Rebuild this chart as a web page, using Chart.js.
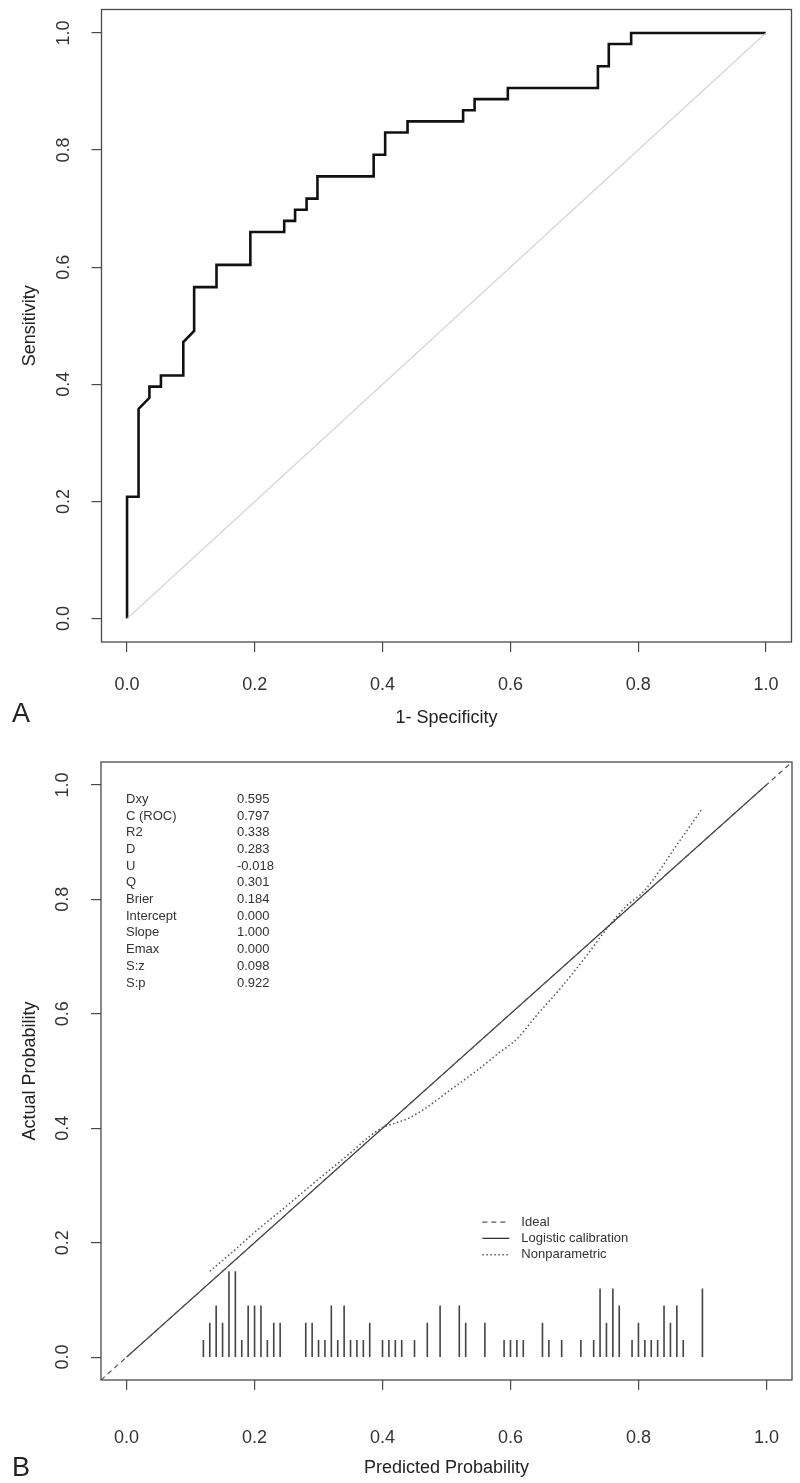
<!DOCTYPE html>
<html>
<head>
<meta charset="utf-8">
<script src="https://cdn.jsdelivr.net/npm/chart.js@4.4.1/dist/chart.umd.min.js"></script>
<style>
  body { margin: 0; background: #fff; width: 800px; height: 1483px; position: relative; overflow: hidden; }
  .panel { position: absolute; left: 0; width: 800px; }
  #wrapA { top: 0; height: 740px; }
  #wrapB { top: 740px; height: 743px; }
  .tag { position: absolute; font-size: 27px; color: #222; font-family: "Liberation Sans Narrow", "Liberation Sans", Arial, sans-serif; }
</style>
</head>
<body>
<div class="panel" id="wrapA"><canvas id="rocChart" width="800" height="740"></canvas></div>
<div class="panel" id="wrapB"><canvas id="calChart" width="800" height="743"></canvas></div>
<div class="tag" style="left:12px;top:698px">A</div>
<div class="tag" style="left:12px;top:1452px">B</div>
<script>
// shared axis ticks
const axisTicks = [0, 0.2, 0.4, 0.6, 0.8, 1.0];
const axisTickLabels = ['0.0', '0.2', '0.4', '0.6', '0.8', '1.0'];

// panel A: ROC curve (1 - specificity, sensitivity)
const rocFpr = [0, 0, 0.018, 0.018, 0.035, 0.035, 0.053, 0.053, 0.088, 0.088, 0.105, 0.105, 0.140, 0.140,
  0.193, 0.193, 0.246, 0.246, 0.263, 0.263, 0.281, 0.281, 0.298, 0.298, 0.386, 0.386, 0.404, 0.404,
  0.439, 0.439, 0.526, 0.526, 0.544, 0.544, 0.596, 0.596, 0.737, 0.737, 0.754, 0.754, 0.789, 0.789, 1];
const rocTpr = [0, 0.208, 0.208, 0.358, 0.377, 0.396, 0.396, 0.415, 0.415, 0.472, 0.491, 0.566, 0.566, 0.604,
  0.604, 0.660, 0.660, 0.679, 0.679, 0.698, 0.698, 0.717, 0.717, 0.755, 0.755, 0.792, 0.792, 0.830,
  0.830, 0.849, 0.849, 0.868, 0.868, 0.887, 0.887, 0.906, 0.906, 0.943, 0.943, 0.981, 0.981, 1, 1];
const chanceX = [0, 1];
const chanceY = [0, 1];

// panel B: calibration
const statNames = ['Dxy', 'C (ROC)', 'R2', 'D', 'U', 'Q', 'Brier', 'Intercept', 'Slope', 'Emax', 'S:z', 'S:p'];
const statValues = ['0.595', '0.797', '0.338', '0.283', '-0.018', '0.301', '0.184', '0.000', '1.000', '0.000', '0.098', '0.922'];
const idealX = [-0.04, 1.04];
const idealY = [-0.04, 1.04];
const logisticX = [0, 1];
const logisticY = [0, 1];
const nonparX = [0.13, 0.17, 0.20, 0.25, 0.30, 0.35, 0.38, 0.40, 0.42, 0.44, 0.47, 0.50, 0.55, 0.58,
  0.61, 0.64, 0.68, 0.72, 0.75, 0.78, 0.81, 0.86, 0.90];
const nonparY = [0.150, 0.188, 0.218, 0.264, 0.311, 0.357, 0.386, 0.401, 0.409, 0.417, 0.437, 0.462, 0.503, 0.530,
  0.556, 0.596, 0.647, 0.703, 0.748, 0.787, 0.816, 0.895, 0.959];
const spikeX = [0.12, 0.13, 0.14, 0.15, 0.16, 0.17, 0.18, 0.19, 0.20, 0.21, 0.22, 0.23, 0.24,
  0.28, 0.29, 0.30, 0.31, 0.32, 0.33, 0.34, 0.35, 0.36, 0.37, 0.38,
  0.40, 0.41, 0.42, 0.43, 0.45, 0.47, 0.49, 0.52, 0.53, 0.56, 0.59, 0.60, 0.61, 0.62,
  0.65, 0.66, 0.68, 0.71, 0.73, 0.74, 0.75, 0.76, 0.77,
  0.79, 0.80, 0.81, 0.82, 0.83, 0.84, 0.85, 0.86, 0.87, 0.90];
const spikeCount = [1, 2, 3, 2, 5, 5, 1, 3, 3, 3, 1, 2, 2,
  2, 2, 1, 1, 3, 1, 3, 1, 1, 1, 2,
  1, 1, 1, 1, 1, 2, 3, 3, 2, 2, 1, 1, 1, 1,
  2, 1, 1, 1, 1, 4, 2, 4, 3,
  1, 2, 1, 1, 1, 3, 2, 3, 1, 4];
const spikeUnit = 0.03;   // height of one count on the y axis
const legendAt = [0.556, 0.236];

const narrow = '"Liberation Sans Narrow", "Liberation Sans", Arial, sans-serif';
const pts = (xs, ys) => xs.map((v, i) => ({x: v, y: ys[i]}));

function spikePoints() {
  const out = [];
  spikeX.forEach((v, i) => {
    out.push({x: v, y: 0}, {x: v, y: spikeCount[i] * spikeUnit}, {x: v, y: null});
  });
  return out;
}

function axis(pos, title, size, tickPad, titlePad) {
  const left = pos === 'left';
  return {
    type: 'linear',
    position: pos,
    min: -0.04,
    max: 1.04,
    afterBuildTicks: s => { s.ticks = axisTicks.map(v => ({value: v})); },
    afterFit: s => {
      if (left) s.width = size; else s.height = size;
      // keep the plot box where the layout padding puts it
      s.paddingLeft = s.paddingRight = s.paddingTop = s.paddingBottom = 0;
    },
    grid: {drawOnChartArea: false, drawTicks: true, tickLength: 10, color: '#4a4a4a', lineWidth: 1.2},
    border: {display: false},
    ticks: {
      callback: (v, i) => axisTickLabels[i],
      color: '#333',
      font: {size: 18, family: narrow},
      padding: tickPad,
      minRotation: left ? 90 : 0,
      maxRotation: left ? 90 : 0,
      crossAlign: left ? 'center' : 'near'
    },
    title: {display: true, text: title, color: '#222', font: {size: 18, family: narrow}, padding: titlePad}
  };
}

const framePlugin = {
  id: 'frame',
  afterDraw(chart) {
    const {ctx, chartArea: a} = chart;
    ctx.save();
    ctx.strokeStyle = '#4a4a4a';
    ctx.lineWidth = 1.3;
    ctx.strokeRect(a.left, a.top, a.right - a.left, a.bottom - a.top);
    ctx.restore();
  }
};

const calTextPlugin = {
  id: 'calText',
  afterDatasetsDraw(chart) {
    const {ctx, chartArea: a, scales: {x, y}} = chart;
    ctx.save();
    ctx.font = '13px "Liberation Sans", Arial, sans-serif';
    ctx.fillStyle = '#333';
    ctx.textBaseline = 'middle';
    ctx.textAlign = 'left';
    statNames.forEach((n, i) => {
      const ty = a.top + 37.3 + i * 16.7;
      ctx.fillText(n, a.left + 25, ty);
      ctx.fillText(statValues[i], a.left + 136, ty);
    });
    const lx = x.getPixelForValue(legendAt[0]);
    const ly = y.getPixelForValue(legendAt[1]);
    chart.data.datasets.slice(0, 3).forEach((ds, i) => {
      const yy = ly + i * 16.3;
      ctx.strokeStyle = ds.borderColor;
      ctx.lineWidth = ds.borderWidth;
      ctx.setLineDash(ds.borderDash || []);
      ctx.beginPath();
      ctx.moveTo(lx, yy);
      ctx.lineTo(lx + 27, yy);
      ctx.stroke();
      ctx.setLineDash([]);
      ctx.fillText(ds.label, lx + 39, yy);
    });
    ctx.restore();
  }
};

new Chart(document.getElementById('rocChart'), {
  type: 'scatter',
  data: {
    datasets: [
      {label: 'Chance', data: pts(chanceX, chanceY), showLine: true, borderColor: '#cfcfcf', borderWidth: 1.2, pointRadius: 0},
      {label: 'ROC', data: pts(rocFpr, rocTpr), showLine: true, borderColor: '#111', borderWidth: 2.6, pointRadius: 0}
    ]
  },
  options: {
    responsive: false,
    animation: false,
    layout: {padding: {top: 9.5, right: 8.5, left: 0, bottom: 0}},
    plugins: {legend: {display: false}, tooltip: {enabled: false}},
    scales: {
      x: axis('bottom', '1- Specificity', 98, 22, {top: 0, bottom: 11}),
      y: axis('left', 'Sensitivity', 101.5, 15, {top: 19, bottom: 0})
    }
  },
  plugins: [framePlugin]
});

new Chart(document.getElementById('calChart'), {
  type: 'scatter',
  data: {
    datasets: [
      {label: 'Ideal', data: pts(idealX, idealY), showLine: true, borderColor: '#555', borderWidth: 1.2, borderDash: [5, 4], pointRadius: 0},
      {label: 'Logistic calibration', data: pts(logisticX, logisticY), showLine: true, borderColor: '#333', borderWidth: 1.3, pointRadius: 0},
      {label: 'Nonparametric', data: pts(nonparX, nonparY), showLine: true, borderColor: '#555', borderWidth: 1.5, borderDash: [1.5, 2.5], cubicInterpolationMode: 'monotone', pointRadius: 0},
      {label: 'Frequency', data: spikePoints(), showLine: true, spanGaps: false, borderColor: '#444', borderWidth: 1.6, pointRadius: 0}
    ]
  },
  options: {
    responsive: false,
    animation: false,
    layout: {padding: {top: 22, right: 8, left: 0, bottom: 0}},
    plugins: {legend: {display: false}, tooltip: {enabled: false}},
    scales: {
      x: axis('bottom', 'Predicted Probability', 103, 37, {top: 0, bottom: 4}),
      y: axis('left', 'Actual Probability', 101, 15, {top: 19, bottom: 0})
    }
  },
  plugins: [framePlugin, calTextPlugin]
});
</script>
</body>
</html>
